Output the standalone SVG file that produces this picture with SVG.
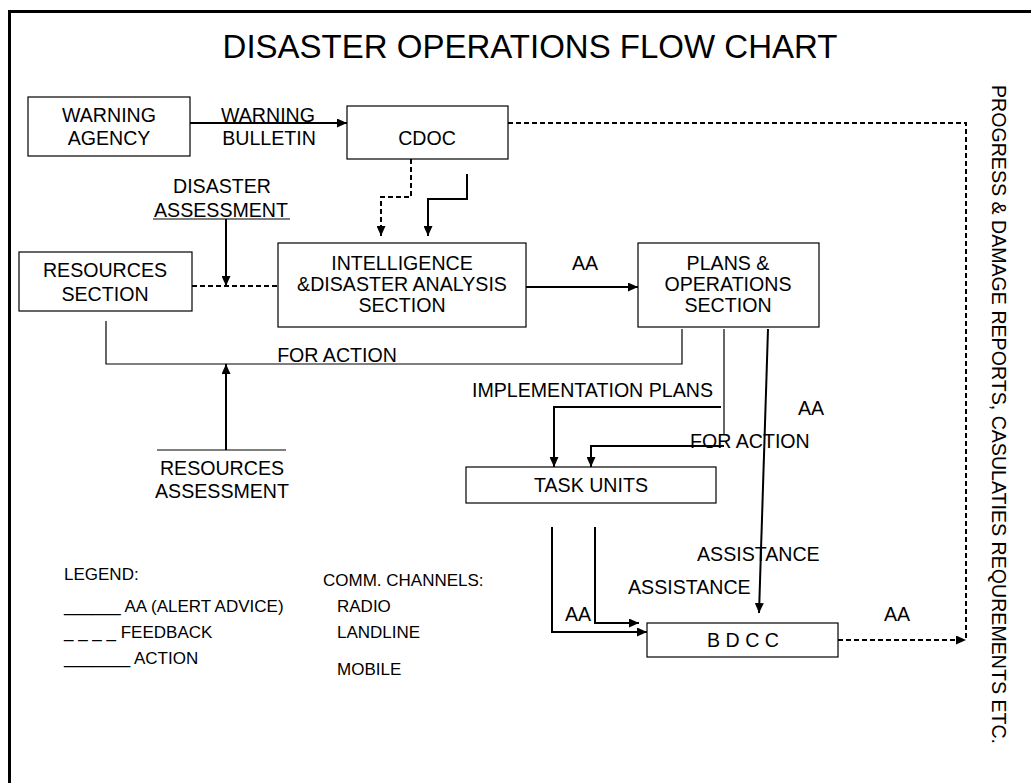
<svg xmlns="http://www.w3.org/2000/svg" width="1031" height="783" viewBox="0 0 1031 783">
  <style>
    text { font-family: "Liberation Sans", Arial, sans-serif; fill: #000; }
    .lbl { font-size: 19.6px; }
    .mid { text-anchor: middle; }
    .leg { font-size: 17px; }
    .box { fill: #fff; stroke: #000; stroke-width: 1.2; }
    .solid { fill: none; stroke: #000; stroke-width: 2; }
    .thin { fill: none; stroke: #000; stroke-width: 1.2; }
    .dash { fill: none; stroke: #000; stroke-width: 2; stroke-dasharray: 5 3; }
    .arrow { marker-end: url(#ah); }
  </style>
  <defs>
    <marker id="ah" markerUnits="userSpaceOnUse" markerWidth="11" markerHeight="9" refX="10" refY="4.5" orient="auto">
      <path d="M0,0 L10,4.5 L0,9 Z" fill="#000"/>
    </marker>
  </defs>

  <rect width="1031" height="783" fill="#fff"/>
  <!-- page frame -->
  <path d="M9.5,783 V11.5 H1031" fill="none" stroke="#000" stroke-width="3"/>

  <text x="530" y="58" class="mid" font-size="33">DISASTER OPERATIONS FLOW CHART</text>

  <!-- nodes -->
  <g id="warning-agency">
    <rect class="box" x="28" y="97" width="162" height="59"/>
    <text class="lbl mid" x="109" y="122">WARNING</text>
    <text class="lbl mid" x="109" y="145">AGENCY</text>
  </g>
  <g id="cdoc">
    <rect class="box" x="347" y="106" width="161" height="53"/>
    <text class="lbl mid" x="427" y="145">CDOC</text>
  </g>
  <g id="resources-section">
    <rect class="box" x="19" y="252" width="173" height="59"/>
    <text class="lbl mid" x="105" y="277">RESOURCES</text>
    <text class="lbl mid" x="105" y="301">SECTION</text>
  </g>
  <g id="intelligence">
    <rect class="box" x="278" y="243" width="248" height="84"/>
    <text class="lbl mid" x="402" y="270">INTELLIGENCE</text>
    <text class="lbl mid" x="402" y="291">&amp;DISASTER ANALYSIS</text>
    <text class="lbl mid" x="402" y="312">SECTION</text>
  </g>
  <g id="plans-operations">
    <rect class="box" x="638" y="243" width="181" height="84"/>
    <text class="lbl mid" x="728" y="270">PLANS &amp;</text>
    <text class="lbl mid" x="728" y="291">OPERATIONS</text>
    <text class="lbl mid" x="728" y="312">SECTION</text>
  </g>
  <g id="task-units">
    <rect class="box" x="466" y="467" width="250" height="36"/>
    <text class="lbl mid" x="591" y="492">TASK UNITS</text>
  </g>
  <g id="bdcc">
    <rect class="box" x="647" y="623" width="191" height="34"/>
    <text class="lbl mid" x="743" y="647">B D C C</text>
  </g>

  <!-- connectors -->
  <g id="connectors">
    <path class="solid arrow" d="M190,123 H347"/>
    <path class="dash" d="M508,123 H966 V640"/>
    <path class="dash arrow" d="M411,159 V197 H381 V236"/>
    <path class="solid arrow" d="M467,174 V199 H428 V236"/>
    <path class="thin" d="M153,219 H290"/>
    <path class="solid arrow" d="M226,219 V286"/>
    <path class="dash" d="M192,286 H278"/>
    <path class="solid arrow" d="M526,287 H638"/>
    <path class="thin" d="M106,321 V364 H682 V329"/>
    <path class="thin" d="M157,450 H286"/>
    <path class="solid arrow" d="M226,450 V364"/>
    <path class="solid arrow" d="M721,407 H554 V467"/>
    <path class="thin" d="M724,329 V434"/>
    <path class="solid arrow" d="M724,446 H591 V467"/>
    <path class="solid arrow" d="M768,329 L759,613"/>
    <path class="solid arrow" d="M552,527 V632 H647"/>
    <path class="solid arrow" d="M595,527 V623 H639"/>
    <path class="dash arrow" d="M838,640 H966"/>
  </g>

  <!-- connector labels -->
  <g id="labels">
    <text class="lbl mid" x="268" y="122">WARNING</text>
    <text class="lbl mid" x="269" y="145">BULLETIN</text>
    <text class="lbl mid" x="222" y="193">DISASTER</text>
    <text class="lbl mid" x="221" y="217">ASSESSMENT</text>
    <text class="lbl mid" x="585" y="270">AA</text>
    <text class="lbl mid" x="337" y="362">FOR ACTION</text>
    <text class="lbl mid" x="222" y="475">RESOURCES</text>
    <text class="lbl mid" x="222" y="498">ASSESSMENT</text>
    <text class="lbl" x="472" y="397">IMPLEMENTATION PLANS</text>
    <text class="lbl" x="798" y="415">AA</text>
    <text class="lbl" x="690" y="448">FOR ACTION</text>
    <text class="lbl" x="697" y="561">ASSISTANCE</text>
    <text class="lbl" x="628" y="594">ASSISTANCE</text>
    <text class="lbl" x="565" y="621">AA</text>
    <text class="lbl" x="884" y="621">AA</text>
    <text class="lbl" transform="translate(992,85) rotate(90)">PROGRESS &amp; DAMAGE REPORTS, CASULATIES REQUREMENTS ETC.</text>
  </g>

  <!-- legend -->
  <g id="legend">
    <text class="leg" x="64" y="580">LEGEND:</text>
    <text class="leg" x="64" y="612">______ AA (ALERT ADVICE)</text>
    <text class="leg" x="64" y="638">_ _ _ _ FEEDBACK</text>
    <text class="leg" x="64" y="664">_______ ACTION</text>
    <text class="leg" x="323" y="586">COMM. CHANNELS:</text>
    <text class="leg" x="337" y="612">RADIO</text>
    <text class="leg" x="337" y="638">LANDLINE</text>
    <text class="leg" x="337" y="675">MOBILE</text>
  </g>
</svg>
